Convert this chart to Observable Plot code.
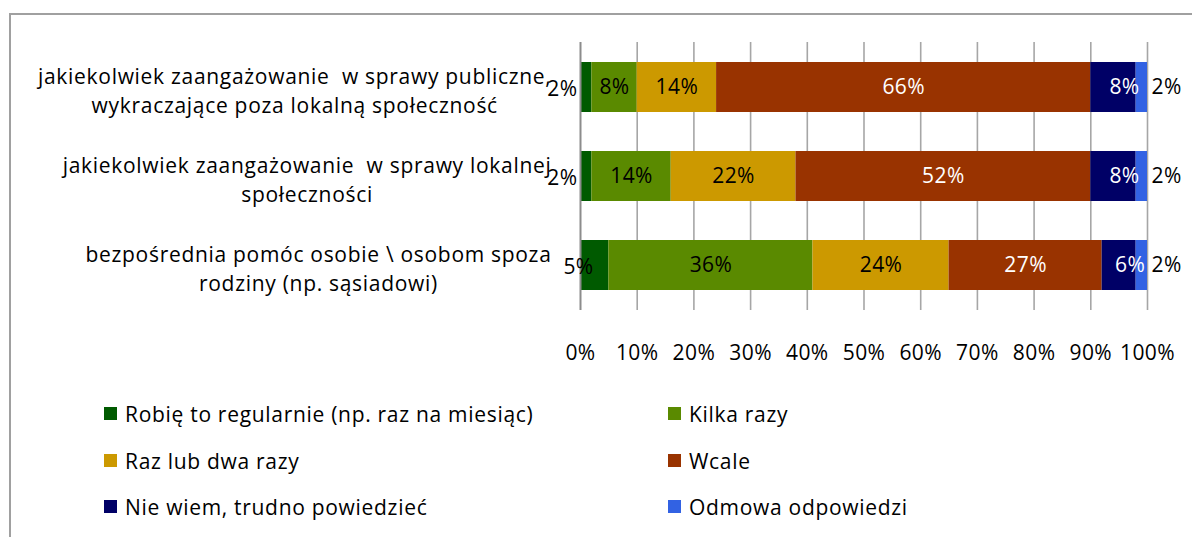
<!DOCTYPE html>
<html>
<head>
<meta charset="utf-8">
<script src="https://cdn.jsdelivr.net/npm/d3@7"></script>
<script src="https://cdn.jsdelivr.net/npm/@observablehq/plot@0.6"></script>
<style>
  html, body { margin: 0; padding: 0; background: #fff; width: 1192px; height: 537px; overflow: hidden; }
  body { position: relative; font-family: "Open Sans", Lato, sans-serif; }
  #frame { position: absolute; left: 9px; top: 13px; width: 1300px; height: 700px; border: 2px solid #a0a0a0; box-sizing: border-box; }
  #chart { position: absolute; left: 0; top: 0; }
  #chart svg text { letter-spacing: 0.4px; }
  #chart svg .catlab text { letter-spacing: 0.7px; }
  .leg { position: absolute; font-size: 21px; color: #000; white-space: nowrap; line-height: 22px; letter-spacing: 0.7px; }
  .leg span.sw { position: absolute; left: 0; top: 4px; width: 13px; height: 13px; }
</style>
</head>
<body>
<div id="frame"></div>
<div id="chart"></div>
<div id="legend"></div>
<script>
// ---- data ----
const categories = [
  "jakiekolwiek zaangażowanie  w sprawy publiczne, wykraczające poza lokalną społeczność",
  "jakiekolwiek zaangażowanie  w sprawy lokalnej społeczności",
  "bezpośrednia pomóc osobie \\ osobom spoza rodziny (np. sąsiadowi)"
];
const categoryLabels = [
  "jakiekolwiek zaangażowanie  w sprawy publiczne,\nwykraczające poza lokalną społeczność",
  "jakiekolwiek zaangażowanie  w sprawy lokalnej\nspołeczności",
  "bezpośrednia pomóc osobie \\ osobom spoza\nrodziny (np. sąsiadowi)"
];
const series = [
  "Robię to regularnie (np. raz na miesiąc)",
  "Kilka razy",
  "Raz lub dwa razy",
  "Wcale",
  "Nie wiem,  trudno powiedzieć",
  "Odmowa odpowiedzi"
];
const colors = ["#005a00", "#5a8a00", "#cc9900", "#993300", "#000066", "#3262e3"];
const labelColors = ["#000", "#000", "#000", "#fff", "#fff", "#000"];
const regularnie = [2, 2, 5];
const kilka = [8, 14, 36];
const razDwa = [14, 22, 24];
const wcale = [66, 52, 27];
const nieWiem = [8, 8, 6];
const odmowa = [2, 2, 2];
const xTicks = [0, 10, 20, 30, 40, 50, 60, 70, 80, 90, 100];

// ---- build table ----
const seriesValues = [regularnie, kilka, razDwa, wcale, nieWiem, odmowa];
const rows = [];
categories.forEach((c, i) => {
  let x1 = 0;
  series.forEach((s, j) => {
    const v = seriesValues[j][i];
    rows.push({cat: c, series: s, si: j, value: v, x1, x2: x1 + v, mid: x1 + v / 2, label: v + "%"});
    x1 += v;
  });
});
const labelOf = new Map(categories.map((c, i) => [c, categoryLabels[i]]));

const FONT = "'Open Sans', Lato, sans-serif";
const FS = 21;

const plot = Plot.plot({
  width: 1192,
  height: 380,
  marginLeft: 580,
  marginRight: 45,
  marginTop: 42,
  marginBottom: 70,
  style: {fontFamily: FONT, fontSize: FS + "px", color: "#000", background: "transparent"},
  x: {domain: [0, 100], label: null, axis: null},
  y: {domain: categories, paddingInner: 0.44, paddingOuter: 0.22, label: null, axis: null},
  color: {domain: series, range: colors},
  marks: [
    Plot.ruleX(xTicks.slice(1), {stroke: "#a6a6a6", strokeWidth: 1.6}),
    Plot.barX(rows, {y: "cat", x1: "x1", x2: "x2", fill: "series"}),
    Plot.ruleX([0], {stroke: "#8c8c8c", strokeWidth: 2}),
    Plot.text(rows.filter(d => d.si >= 1 && d.si <= 3), {
      y: "cat", x: "mid", text: "label", fill: d => labelColors[d.si], fontSize: FS
    }),
    Plot.text(rows.filter(d => d.si === 4), {
      y: "cat", x: "mid", text: "label", fill: "#fff", fontSize: FS, dx: 11
    }),
    Plot.text(rows.filter(d => d.si === 0 && d.value < 4), {
      y: "cat", x: "x1", text: "label", fill: "#000", fontSize: FS, textAnchor: "end", dx: -3, dy: 2
    }),
    Plot.text(rows.filter(d => d.si === 0 && d.value >= 4), {
      y: "cat", x: "x1", text: "label", fill: "#000", fontSize: FS, dx: -2, dy: 2
    }),
    Plot.text(rows.filter(d => d.si === 5), {
      y: "cat", x: "x2", text: "label", fill: "#000", fontSize: FS, textAnchor: "start", dx: 4
    }),
    Plot.text(categories, {
      y: d => d, x: 0, text: d => labelOf.get(d), textAnchor: "middle", lineHeight: 1.38,
      fill: "#000", fontSize: FS, className: "catlab", dy: 2
    }),
    Plot.axisX(xTicks, {tickSize: 0, tickPadding: 35, tickFormat: d => d + "%", fontSize: FS, fill: "#000"})
  ]
});
document.getElementById("chart").appendChild(plot);

// centre each category block so that its right edge sits left of the axis
const rightEdge = 551;
plot.querySelectorAll(".catlab text").forEach(t => {
  const bb = t.getBBox();
  const tr = t.getAttribute("transform");
  if (tr) {
    const m = tr.match(/translate\(\s*([-\d.e]+)[ ,]+([-\d.e]+)\s*\)/);
    const Y = m ? +m[2] : 0;
    t.setAttribute("transform", `translate(${rightEdge - (bb.x + bb.width)},${Y})`);
  } else {
    const x = +t.getAttribute("x");
    t.setAttribute("x", x + (rightEdge - (bb.x + bb.width)));
  }
});

// ---- legend ----
const legend = document.getElementById("legend");
const legX = [104, 668];
const legY = [403, 450, 496];
series.forEach((s, j) => {
  const div = document.createElement("div");
  div.className = "leg";
  div.style.left = legX[j % 2] + "px";
  div.style.top = legY[Math.floor(j / 2)] + "px";
  div.style.paddingLeft = "21px";
  const sw = document.createElement("span");
  sw.className = "sw";
  sw.style.background = colors[j];
  div.appendChild(sw);
  div.appendChild(document.createTextNode(s));
  legend.appendChild(div);
});
</script>
</body>
</html>
